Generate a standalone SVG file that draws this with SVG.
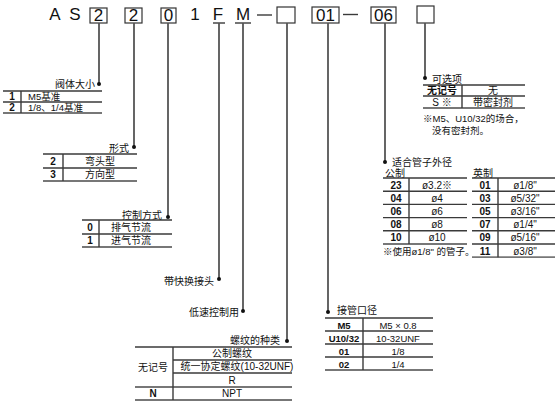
<svg xmlns="http://www.w3.org/2000/svg" width="557" height="410" viewBox="0 0 557 410">
<style>
.t{font-family:"Liberation Sans","Noto Sans CJK SC",sans-serif;font-size:10px;fill:#111}
.s{font-size:9.5px}
.b{font-weight:bold}
.m{text-anchor:middle}
.e{text-anchor:end}
.big{font-family:"Liberation Sans",sans-serif;font-size:17px;fill:#111;text-anchor:middle}
.ln{stroke:#555;stroke-width:1.8;fill:none}
.tb{stroke:#3a3a3a;stroke-width:1.4;fill:none}
.tg{stroke:#777;stroke-width:1.8;fill:none}
.box{fill:#fff;stroke:#333;stroke-width:1.2}
.dot{fill:#111}
</style>

<g id="code">
<text class="big" x="55" y="20">A</text>
<text class="big" x="75" y="20">S</text>
<rect class="box" x="90" y="8" width="17" height="15"/>
<text class="big" x="98.5" y="21">2</text>
<rect class="box" x="125" y="8" width="17" height="15"/>
<text class="big" x="133.5" y="21">2</text>
<rect class="box" x="161" y="8" width="15" height="15"/>
<text class="big" x="168.5" y="21">0</text>
<text class="big" x="195" y="20">1</text>
<text class="big" x="218" y="20">F</text>
<line class="tb" x1="213" y1="23" x2="225" y2="23"/>
<text class="big" x="243" y="20">M</text>
<line class="tb" x1="235" y1="23" x2="251" y2="23"/>
<line class="tb" x1="257" y1="15" x2="272" y2="15"/>
<rect class="box" x="277" y="7" width="18" height="16"/>
<rect class="box" x="312" y="7" width="27" height="16"/>
<text class="big" x="325.5" y="21">01</text>
<line class="tb" x1="343" y1="14.5" x2="358" y2="14.5"/>
<rect class="box" x="371" y="7" width="25" height="16"/>
<text class="big" x="383.5" y="21">06</text>
<rect class="box" x="417" y="6" width="17" height="17"/>
</g>

<g id="connectors">
<line class="ln" x1="99" y1="23" x2="99" y2="84"/>
<circle class="dot" cx="99" cy="84" r="2"/>
<line class="ln" x1="134" y1="23" x2="134" y2="147"/>
<circle class="dot" cx="134" cy="147" r="2"/>
<line class="ln" x1="168" y1="23" x2="168" y2="217"/>
<circle class="dot" cx="168" cy="217" r="2"/>
<line class="ln" x1="219" y1="23" x2="219" y2="279"/>
<circle class="dot" cx="219" cy="279" r="2"/>
<line class="ln" x1="243" y1="23" x2="243" y2="311"/>
<circle class="dot" cx="243" cy="311" r="2"/>
<line class="ln" x1="287" y1="23" x2="287" y2="341"/>
<circle class="dot" cx="287" cy="341" r="2"/>
<line class="ln" x1="328" y1="23" x2="328" y2="312"/>
<circle class="dot" cx="328" cy="312" r="2"/>
<line class="ln" x1="385" y1="23" x2="385" y2="162"/>
<circle class="dot" cx="385" cy="162" r="2"/>
<line class="ln" x1="425" y1="23" x2="425" y2="78"/>
<circle class="dot" cx="425" cy="78" r="2"/>
</g>

<g id="body-size">
<text class="t e" x="95" y="88">阀体大小</text>
<line class="tb" x1="3" y1="91" x2="102" y2="91"/>
<line class="tb" x1="3" y1="102" x2="102" y2="102"/>
<line class="tg" x1="3" y1="113" x2="102" y2="113"/>
<line class="tb" x1="21" y1="91" x2="21" y2="113"/>
<text class="t b m" x="12" y="100">1</text>
<text class="t s" x="28" y="100">M5基准</text>
<text class="t b m" x="12" y="111">2</text>
<text class="t s" x="28" y="111">1/8、1/4基准</text>
</g>

<g id="form">
<text class="t e" x="129" y="152">形式</text>
<line class="tb" x1="43" y1="154" x2="137" y2="154"/>
<line class="tb" x1="43" y1="168" x2="137" y2="168"/>
<line class="tg" x1="43" y1="181" x2="137" y2="181"/>
<line class="tb" x1="63" y1="154" x2="63" y2="181"/>
<text class="t b m" x="53" y="164.5">2</text>
<text class="t m" x="100" y="164.5">弯头型</text>
<text class="t b m" x="53" y="178">3</text>
<text class="t m" x="100" y="178">方向型</text>
</g>

<g id="control">
<text class="t e" x="162" y="219">控制方式</text>
<line class="tb" x1="82" y1="220" x2="172" y2="220"/>
<line class="tb" x1="82" y1="234" x2="172" y2="234"/>
<line class="tg" x1="82" y1="247" x2="172" y2="247"/>
<line class="tb" x1="99" y1="220" x2="99" y2="247"/>
<text class="t b m" x="90" y="230.5">0</text>
<text class="t m" x="131" y="230.5">排气节流</text>
<text class="t b m" x="90" y="244">1</text>
<text class="t m" x="131" y="244">进气节流</text>
</g>

<g id="quick">
<text class="t e" x="214" y="284.5">带快换接头</text>
</g>

<g id="low-speed">
<text class="t e" x="239" y="315.5">低速控制用</text>
</g>

<g id="thread">
<text class="t e" x="280" y="344">螺纹的种类</text>
<line class="tb" x1="135" y1="347" x2="292" y2="347"/>
<line class="tb" x1="173" y1="360" x2="292" y2="360"/>
<line class="tb" x1="173" y1="373" x2="292" y2="373"/>
<line class="tg" x1="135" y1="387" x2="292" y2="387"/>
<line class="tg" x1="135" y1="400" x2="292" y2="400"/>
<line class="tb" x1="173" y1="347" x2="173" y2="400"/>
<text class="t m" x="232" y="357">公制螺纹</text>
<text class="t m" x="237" y="370">统一协定螺纹(10-32UNF)</text>
<text class="t m" x="232" y="383.5">R</text>
<text class="t m" x="153" y="371">无记号</text>
<text class="t b m" x="153" y="397">N</text>
<text class="t m" x="232" y="397">NPT</text>
</g>

<g id="port">
<text class="t" x="337" y="314">接管口径</text>
<line class="tb" x1="325" y1="318" x2="433" y2="318"/>
<line class="tb" x1="325" y1="331" x2="433" y2="331"/>
<line class="tb" x1="325" y1="344" x2="433" y2="344"/>
<line class="tb" x1="325" y1="357" x2="433" y2="357"/>
<line class="tg" x1="325" y1="370" x2="433" y2="370"/>
<line class="tb" x1="363" y1="318" x2="363" y2="370"/>
<text class="t b m s" x="344" y="328.5">M5</text>
<text class="t m s" x="398" y="328.5">M5 × 0.8</text>
<text class="t b m s" x="344" y="341.5">U10/32</text>
<text class="t m s" x="398" y="341.5">10-32UNF</text>
<text class="t b m s" x="344" y="354.5">01</text>
<text class="t m s" x="398" y="354.5">1/8</text>
<text class="t b m s" x="344" y="367.5">02</text>
<text class="t m s" x="398" y="367.5">1/4</text>
</g>

<g id="tube">
<text class="t" x="392" y="166">适合管子外径</text>
<text class="t" x="385" y="177">公制</text>
<text class="t" x="473" y="177">英制</text>
<line class="tb" x1="383" y1="178" x2="467" y2="178"/>
<line class="tb" x1="383" y1="191.2" x2="467" y2="191.2"/>
<line class="tb" x1="383" y1="204.4" x2="467" y2="204.4"/>
<line class="tb" x1="383" y1="217.6" x2="467" y2="217.6"/>
<line class="tb" x1="383" y1="230.8" x2="467" y2="230.8"/>
<line class="tg" x1="383" y1="244" x2="467" y2="244"/>
<line class="tb" x1="409" y1="178" x2="409" y2="244"/>
<text class="t b m" x="396" y="188.5">23</text>
<text class="t m" x="437" y="188.5">ø3.2※</text>
<text class="t b m" x="396" y="201.7">04</text>
<text class="t m" x="437" y="201.7">ø4</text>
<text class="t b m" x="396" y="214.9">06</text>
<text class="t m" x="437" y="214.9">ø6</text>
<text class="t b m" x="396" y="228.1">08</text>
<text class="t m" x="437" y="228.1">ø8</text>
<text class="t b m" x="396" y="241.3">10</text>
<text class="t m" x="437" y="241.3">ø10</text>
<text class="t s" x="383" y="255">※使用ø1/8" 的管子。</text>
<line class="tb" x1="472" y1="178" x2="555" y2="178"/>
<line class="tb" x1="472" y1="191.2" x2="555" y2="191.2"/>
<line class="tb" x1="472" y1="204.4" x2="555" y2="204.4"/>
<line class="tb" x1="472" y1="217.6" x2="555" y2="217.6"/>
<line class="tb" x1="472" y1="230.8" x2="555" y2="230.8"/>
<line class="tb" x1="472" y1="244" x2="555" y2="244"/>
<line class="tg" x1="472" y1="257.2" x2="555" y2="257.2"/>
<line class="tb" x1="498" y1="178" x2="498" y2="257.2"/>
<text class="t b m" x="485" y="188.5">01</text>
<text class="t m" x="525" y="188.5">ø1/8"</text>
<text class="t b m" x="485" y="201.7">03</text>
<text class="t m" x="525" y="201.7">ø5/32"</text>
<text class="t b m" x="485" y="214.9">05</text>
<text class="t m" x="525" y="214.9">ø3/16"</text>
<text class="t b m" x="485" y="228.1">07</text>
<text class="t m" x="525" y="228.1">ø1/4"</text>
<text class="t b m" x="485" y="241.3">09</text>
<text class="t m" x="525" y="241.3">ø5/16"</text>
<text class="t b m" x="485" y="254.5">11</text>
<text class="t m" x="525" y="254.5">ø3/8"</text>
</g>

<g id="option">
<text class="t" x="432" y="83">可选项</text>
<line class="tb" x1="423" y1="85" x2="525" y2="85"/>
<line class="tb" x1="423" y1="96" x2="525" y2="96"/>
<line class="tg" x1="423" y1="108" x2="525" y2="108"/>
<line class="tb" x1="462" y1="85" x2="462" y2="108"/>
<text class="t b m" x="442" y="94">无记号</text>
<text class="t m" x="493" y="94">无</text>
<text class="t m" x="442" y="105.5">S ※</text>
<text class="t m" x="493" y="105.5">带密封剂</text>
<text class="t s" x="423" y="122">※M5、U10/32的场合，</text>
<text class="t s" x="432" y="134">没有密封剂。</text>
</g>
</svg>
